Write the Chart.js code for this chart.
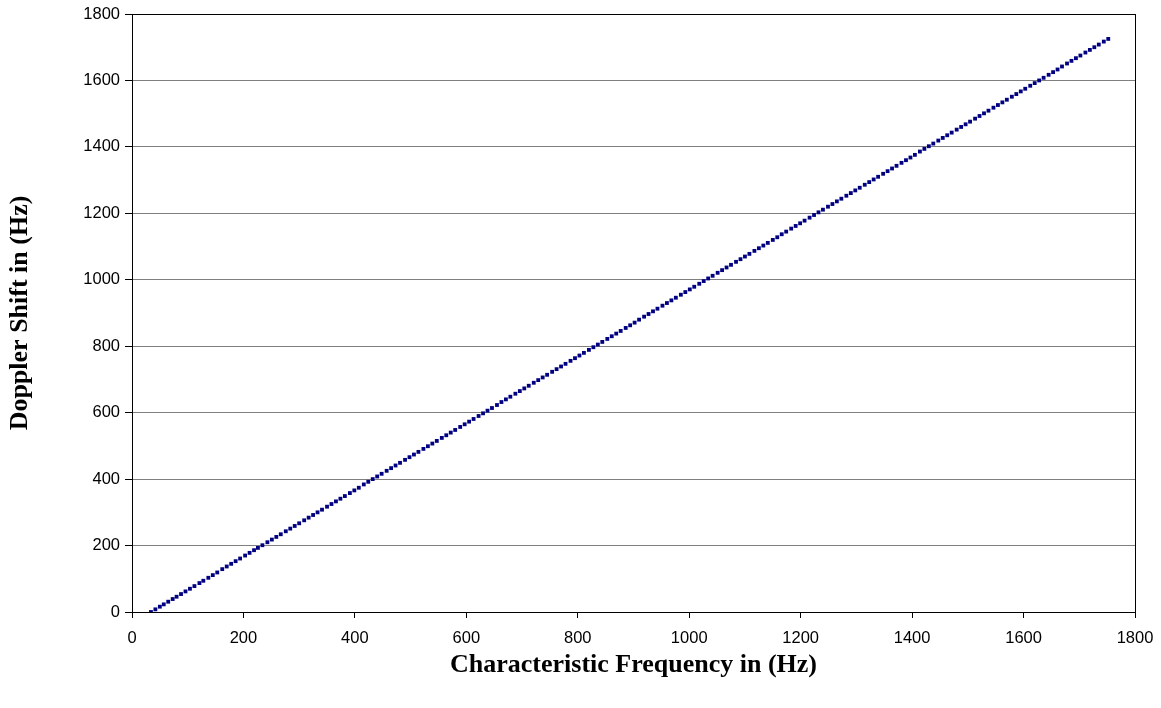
<!DOCTYPE html>
<html>
<head>
<meta charset="utf-8">
<title>Doppler Shift vs Characteristic Frequency</title>
<script src="https://cdn.jsdelivr.net/npm/chart.js@4"></script>
<style>
    html, body { margin: 0; padding: 0; background: #fff; }
    #wrap { width: 1161px; height: 708px; }
</style>
</head>
<body>
<div id="wrap"><canvas id="DopplerChart" width="1161" height="708"></canvas></div>
<script>
// Characteristic frequency (Hz)
const freqHz = [34, 42, 50, 57, 65, 73, 80, 88, 96, 104, 112, 121, 128, 137, 145, 153, 162, 170, 178, 186,
    194, 203, 211, 219, 226, 234, 243, 251, 259, 267, 276, 284, 292, 300, 309, 317, 325, 333, 341, 350,
    358, 366, 374, 382, 391, 399, 407, 416, 424, 432, 440, 448, 457, 465, 473, 481, 490, 498, 506, 514,
    523, 531, 539, 547, 556, 564, 572, 580, 589, 597, 605, 613, 622, 630, 638, 646, 655, 663, 671, 679,
    688, 696, 704, 712, 721, 729, 737, 745, 754, 762, 770, 778, 787, 795, 803, 811, 820, 828, 836, 844,
    853, 861, 869, 877, 886, 894, 902, 910, 919, 927, 935, 943, 952, 960, 968, 976, 985, 993, 1001, 1009,
    1018, 1026, 1034, 1042, 1051, 1059, 1067, 1075, 1084, 1092, 1100, 1108, 1117, 1125, 1133, 1141, 1150, 1158, 1166, 1174,
    1183, 1191, 1199, 1207, 1216, 1224, 1232, 1240, 1249, 1257, 1265, 1273, 1282, 1290, 1298, 1306, 1315, 1323, 1331, 1339,
    1348, 1356, 1364, 1372, 1381, 1389, 1397, 1405, 1414, 1422, 1430, 1438, 1447, 1455, 1463, 1471, 1480, 1488, 1496, 1504,
    1513, 1521, 1529, 1537, 1546, 1554, 1562, 1570, 1579, 1587, 1595, 1603, 1612, 1620, 1628, 1636, 1645, 1653, 1661, 1669,
    1678, 1686, 1694, 1702, 1711, 1719, 1727, 1735, 1744, 1752];

// Doppler shift (Hz)
const shiftHz = [0, 8, 16, 23, 31, 39, 46, 54, 62, 70, 78, 87, 94, 103, 111, 119, 129, 137, 145, 153,
    161, 170, 178, 186, 193, 201, 210, 218, 226, 234, 243, 251, 259, 267, 276, 284, 292, 300, 308, 317,
    325, 333, 341, 349, 358, 366, 374, 384, 392, 400, 408, 416, 425, 433, 441, 449, 458, 466, 474, 482,
    491, 499, 507, 515, 524, 532, 540, 548, 557, 565, 573, 581, 590, 598, 606, 614, 623, 632, 640, 648,
    657, 665, 673, 681, 690, 698, 706, 714, 723, 731, 739, 747, 756, 764, 772, 780, 789, 797, 805, 813,
    822, 830, 838, 846, 855, 863, 871, 880, 889, 897, 905, 913, 922, 930, 938, 946, 955, 963, 971, 979,
    988, 996, 1004, 1012, 1021, 1029, 1037, 1045, 1054, 1062, 1070, 1078, 1087, 1095, 1103, 1111, 1120, 1128, 1137, 1145,
    1154, 1162, 1170, 1178, 1187, 1195, 1203, 1211, 1220, 1228, 1236, 1244, 1253, 1261, 1269, 1277, 1286, 1294, 1302, 1310,
    1319, 1327, 1335, 1343, 1352, 1360, 1368, 1376, 1386, 1394, 1402, 1410, 1419, 1427, 1435, 1443, 1452, 1460, 1468, 1476,
    1485, 1493, 1501, 1509, 1518, 1526, 1534, 1542, 1551, 1559, 1567, 1575, 1584, 1592, 1600, 1608, 1617, 1625, 1633, 1642,
    1651, 1659, 1667, 1675, 1684, 1692, 1700, 1708, 1717, 1725];

// axis ranges / tick steps
const xRange = [0, 1800];
const yRange = [0, 1800];
const tickStep = 200;

const points = freqHz.map((f, i) => ({ x: f, y: shiftHz[i] }));

// box around the plot area (top and right sides too)
const plotBorder = {
    id: 'plotBorder',
    afterDraw(chart) {
        const { ctx, chartArea } = chart;
        ctx.save();
        ctx.strokeStyle = '#000';
        ctx.lineWidth = 1;
        ctx.strokeRect(Math.round(chartArea.left) + 0.5, Math.round(chartArea.top) + 0.5,
            Math.round(chartArea.right - chartArea.left), Math.round(chartArea.bottom - chartArea.top));
        ctx.restore();
    }
};

const tickFont = { family: "'Liberation Sans', Arial, sans-serif", size: 16.5 };
const titleFont = { family: "'Liberation Serif', 'Times New Roman', serif", size: 26, weight: 'bold' };
const plainNumber = function(value) { return String(value); }; // no thousands separator

const ctx = document.getElementById('DopplerChart').getContext('2d');
new Chart(ctx, {
    type: 'scatter',
    data: {
        datasets: [{
            label: 'Doppler Shift',
            data: points,
            pointStyle: 'rect',
            pointRadius: 2.7,
            pointBorderWidth: 0,
            backgroundColor: '#000080',
            borderColor: '#000080'
        }]
    },
    plugins: [plotBorder],
    options: {
        responsive: false,
        animation: false,
        layout: { padding: { top: 14, right: 26, left: 0, bottom: 0 } },
        plugins: {
            legend: { display: false },
            tooltip: { enabled: false }
        },
        scales: {
            x: {
                type: 'linear',
                min: xRange[0],
                max: xRange[1],
                ticks: { stepSize: tickStep, color: '#000', font: tickFont, padding: 11, maxRotation: 0, callback: plainNumber },
                grid: { drawOnChartArea: false, tickLength: 6, tickColor: '#000' },
                border: { color: '#000' },
                title: {
                    display: true,
                    text: 'Characteristic Frequency in (Hz)',
                    color: '#000',
                    font: titleFont,
                    padding: { top: 0, bottom: 27 }
                },
                afterFit: function(scale) {
                    scale.height = 96;
                    scale.paddingLeft = 0;
                    scale.paddingRight = 0;
                }
            },
            y: {
                type: 'linear',
                min: yRange[0],
                max: yRange[1],
                ticks: { stepSize: tickStep, color: '#000', font: tickFont, padding: 5, callback: plainNumber },
                grid: { color: '#808080', tickLength: 7, tickColor: '#000' },
                border: { color: '#000' },
                title: {
                    display: true,
                    text: 'Doppler Shift in (Hz)',
                    color: '#000',
                    font: titleFont,
                    padding: { top: 5, bottom: 5 }
                },
                afterFit: function(scale) {
                    scale.width = 132;
                    scale.paddingTop = 0;
                    scale.paddingBottom = 0;
                }
            }
        }
    }
});
</script>
</body>
</html>
